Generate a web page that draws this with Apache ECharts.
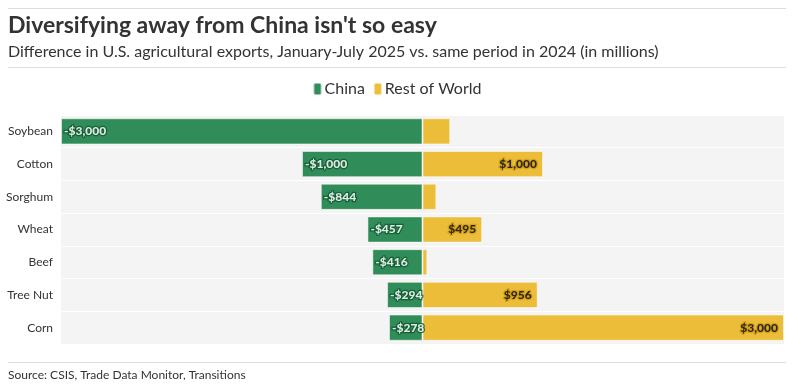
<!DOCTYPE html>
<html><head><meta charset="utf-8">
<script src="https://cdn.jsdelivr.net/npm/echarts@6/dist/echarts.min.js"></script>
<style>html,body{margin:0;padding:0;background:#fff}#c{width:794px;height:390px}</style>
</head><body><div id="c"></div>
<script>
const categories = ['Soybean', 'Cotton', 'Sorghum', 'Wheat', 'Beef', 'Tree Nut', 'Corn'];
const chinaValues = [-3000, -1000, -844, -457, -416, -294, -278];
const restOfWorldValues = [230, 1000, 115, 495, 40, 956, 3000];
const titleText = "Diversifying away from China isn't so easy";
const subtitleText = 'Difference in U.S. agricultural exports, January-July 2025 vs. same period in 2024 (in millions)';
const sourceText = 'Source: CSIS, Trade Data Monitor, Transitions';

const FONT = 'Lato, "Noto Sans", sans-serif';
function fmt(v) {
  const s = '$' + Math.abs(v).toLocaleString('en-US');
  return v < 0 ? '-' + s : s;
}
const chart = echarts.init(document.getElementById('c'), null, {renderer: 'canvas'});
chart.setOption({
  animation: false,
  textStyle: {fontFamily: FONT},
  grid: {left: 61, right: 10, top: 115, bottom: 46, containLabel: false},
  legend: {
    data: ['China', 'Rest of World'],
    top: 76, left: 'center',
    icon: 'roundRect', itemWidth: 8, itemHeight: 12, itemGap: 8,
    textStyle: {fontSize: 16, color: '#333', fontFamily: FONT, padding: [0, 0, 0, -2]}
  },
  xAxis: {
    type: 'value', min: -3000, max: 3000, show: false,
    splitLine: {show: false}
  },
  yAxis: {
    type: 'category', data: categories, inverse: true,
    axisLine: {show: false}, axisTick: {show: false},
    axisLabel: {fontSize: 12, color: '#333', margin: 8, fontFamily: FONT},
    splitArea: {show: true, areaStyle: {color: ['#f4f4f4', '#f4f4f4']}},
    splitLine: {show: true, lineStyle: {color: '#ffffff', width: 1}}
  },
  series: [
    {
      name: 'China', type: 'bar', data: chinaValues, barWidth: '80%', barGap: '-100%',
      itemStyle: {color: '#0f7a3f', opacity: 0.86, borderColor: 'rgba(255,255,255,0.6)', borderWidth: 1},
      label: {
        show: true, position: 'insideLeft', distance: 3,
        formatter: p => fmt(p.value),
        color: '#fff', fontWeight: 900, fontSize: 12, fontFamily: FONT,
        textBorderColor: '#0f5a30', textBorderWidth: 2.5
      }
    },
    {
      name: 'Rest of World', type: 'bar', barWidth: '80%',
      data: restOfWorldValues.map(v => ({value: v, label: {show: v > 300}})),
      itemStyle: {color: '#e9b31a', opacity: 0.86, borderColor: 'rgba(255,255,255,0.6)', borderWidth: 1},
      label: {
        position: 'insideRight', distance: 6,
        formatter: p => fmt(p.value),
        color: '#111', fontWeight: 900, fontSize: 12, fontFamily: FONT,
        textBorderColor: '#d39e14', textBorderWidth: 2.5
      }
    }
  ],
  graphic: [
    {type: 'line', shape: {x1: 8, y1: 8.5, x2: 786, y2: 8.5}, style: {stroke: '#dddddd', lineWidth: 1}},
    {type: 'text', left: 8, top: 14, style: {text: titleText, fill: '#333', font: 'bold 23px ' + FONT}},
    {type: 'text', left: 8, top: 44, style: {text: subtitleText, fill: '#333', font: '16px ' + FONT}},
    {type: 'line', shape: {x1: 8, y1: 67.5, x2: 786, y2: 67.5}, style: {stroke: '#dddddd', lineWidth: 1}},
    {type: 'line', shape: {x1: 8, y1: 362.5, x2: 786, y2: 362.5}, style: {stroke: '#dddddd', lineWidth: 1}},
    {type: 'text', left: 8, top: 369, style: {text: sourceText, fill: '#333', font: '12px ' + FONT}}
  ]
});
</script></body></html>
